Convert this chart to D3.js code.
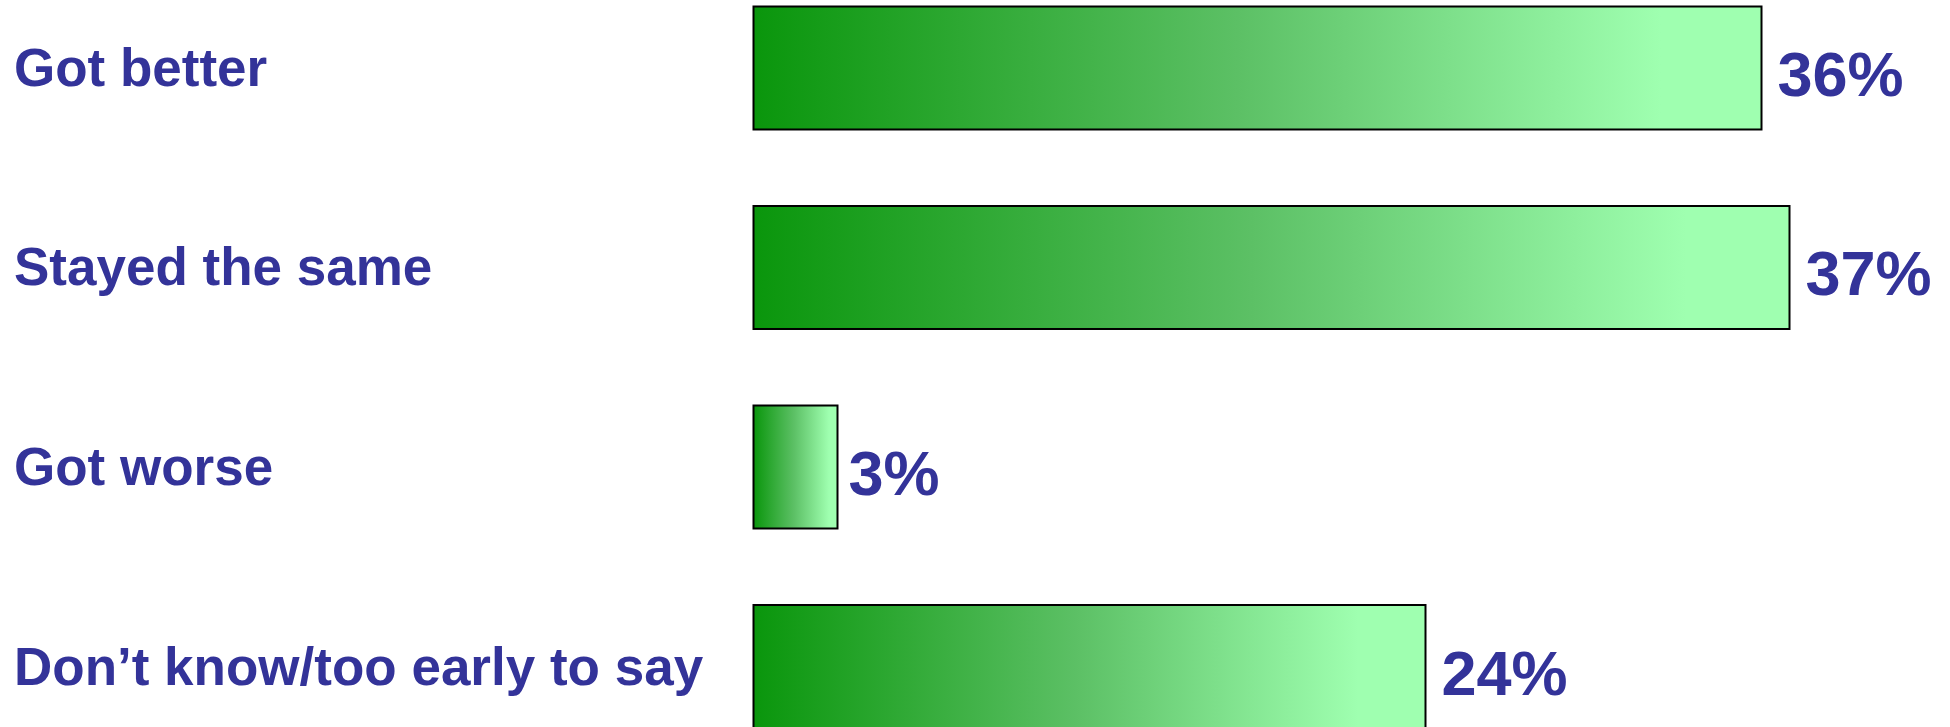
<!DOCTYPE html>
<html>
<head>
<meta charset="utf-8">
<script src="https://cdn.jsdelivr.net/npm/d3@7"></script>
<style>
  body { margin: 0; background: #fff; }
  svg { display: block; font-family: Arial, "Liberation Sans", sans-serif; font-weight: bold; }
</style>
</head>
<body>
<div class="chart"></div>
<script>
const width = 1950;
const height = 727;

const categories = ["Got better", "Stayed the same", "Got worse", "Don\u2019t know/too early to say"];
const values = [36, 37, 3, 24];
const valueLabels = ["36%", "37%", "3%", "24%"];

const textColor = "#333399";

let svg = d3.select(".chart")
    .append("svg")
    .attr("width", width)
    .attr("height", height);

// one gradient, stretched across each bar (objectBoundingBox)
let defs = svg.append("defs");
let grad = defs.append("linearGradient")
    .attr("id", "barFill")
    .attr("x1", "0%").attr("x2", "100%")
    .attr("y1", "0%").attr("y2", "0%");
grad.append("stop").attr("offset", "0%").attr("stop-color", "#0a960c");
grad.append("stop").attr("offset", "48%").attr("stop-color", "#5cc065");
grad.append("stop").attr("offset", "90%").attr("stop-color", "#9fffb0");
grad.append("stop").attr("offset", "100%").attr("stop-color", "#9fffb0");

let x = d3.scaleLinear()
    .domain([0, 37])
    .range([753.5, 1789.5]);

let y = d3.scaleBand()
    .domain(categories)
    .range([6.5, 728])
    .paddingInner(0.3835)
    .paddingOuter(0);

let rows = categories.map((c, i) => ({ cat: c, value: values[i], label: valueLabels[i] }));

svg.selectAll("rect.bar")
    .data(rows)
    .enter()
    .append("rect")
    .attr("class", "bar")
    .attr("x", x(0))
    .attr("y", d => y(d.cat))
    .attr("width", d => x(d.value) - x(0))
    .attr("height", y.bandwidth())
    .attr("fill", "url(#barFill)")
    .attr("stroke", "#000")
    .attr("stroke-width", 2);

// category names on the left
svg.selectAll("text.cat")
    .data(rows)
    .enter()
    .append("text")
    .attr("class", "cat")
    .attr("x", 14)
    .attr("y", d => y(d.cat) + y.bandwidth() / 2 + 18)
    .attr("fill", textColor)
    .attr("font-size", 53)
    .text(d => d.cat);

// value labels after each bar
svg.selectAll("text.val")
    .data(rows)
    .enter()
    .append("text")
    .attr("class", "val")
    .attr("x", d => x(d.value) + (d.value < 10 ? 11 : 16))
    .attr("y", d => y(d.cat) + y.bandwidth() / 2 + 28)
    .attr("fill", textColor)
    .attr("font-size", 63)
    .text(d => d.label);
</script>
</body>
</html>
